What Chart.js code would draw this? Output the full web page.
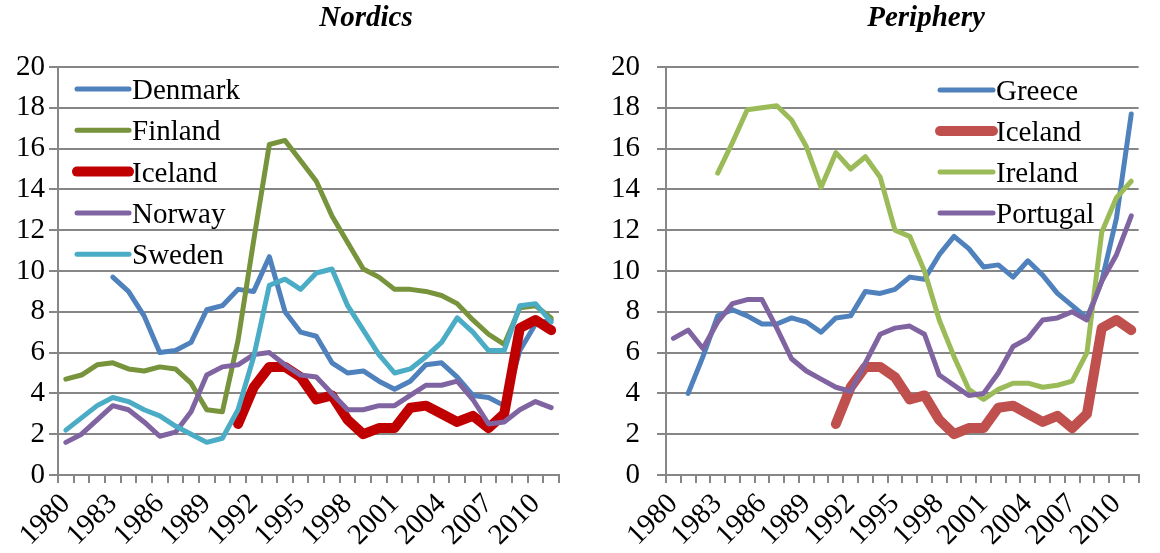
<!DOCTYPE html>
<html lang="en">
<head>
    <meta charset="UTF-8">
    <title>Nordics and Periphery</title>
    <script src="https://cdn.jsdelivr.net/npm/chart.js"></script>
    <style>
        body { margin: 0; background: #fff; }
        #wrap { position: relative; width: 1160px; height: 553px; overflow: hidden; }
        .panel { position: absolute; top: 0; width: 580px; height: 553px; }
        .ttl {
            position: absolute; top: 2px; width: 300px; text-align: center;
            font-family: "Liberation Serif", "Times New Roman", serif;
            font-size: 29px; font-weight: bold; font-style: italic; line-height: 29px;
        }
    </style>
</head>
<body>
<div id="wrap">
    <div class="panel" style="left:0"><canvas id="nordics" width="580" height="553"></canvas></div>
    <div class="panel" style="left:580px"><canvas id="periphery" width="580" height="553"></canvas></div>
    <div class="ttl" style="left:216px">Nordics</div>
    <div class="ttl" style="left:776px">Periphery</div>
</div>
<script>
    // years on the category axis
    const years = ['1980','1981','1982','1983','1984','1985','1986','1987','1988','1989',
                   '1990','1991','1992','1993','1994','1995','1996','1997','1998','1999',
                   '2000','2001','2002','2003','2004','2005','2006','2007','2008','2009',
                   '2010','2011'];

    // Nordics
    const denmark = [null, null, null, 9.7, 9.0, 7.8, 6.0, 6.1, 6.5, 8.1,
                     8.3, 9.1, 9.0, 10.7, 8.0, 7.0, 6.8, 5.5, 5.0, 5.1,
                     4.6, 4.2, 4.6, 5.4, 5.5, 4.8, 3.9, 3.8, 3.4, 6.1,
                     7.4, 7.6];
    const finland = [4.7, 4.9, 5.4, 5.5, 5.2, 5.1, 5.3, 5.2, 4.5, 3.2,
                     3.1, 6.6, 11.5, 16.2, 16.4, 15.4, 14.4, 12.7, 11.4, 10.1,
                     9.7, 9.1, 9.1, 9.0, 8.8, 8.4, 7.6, 6.9, 6.4, 8.2,
                     8.3, 7.7];
    const iceland = [null, null, null, null, null, null, null, null, null, null,
                     null, 2.5, 4.3, 5.3, 5.3, 4.8, 3.7, 3.9, 2.7, 2.0,
                     2.3, 2.3, 3.3, 3.4, 3.0, 2.6, 2.9, 2.3, 3.0, 7.2,
                     7.6, 7.1];
    const norway  = [1.6, 2.0, 2.7, 3.4, 3.2, 2.6, 1.9, 2.1, 3.1, 4.9,
                     5.3, 5.4, 5.9, 6.0, 5.4, 4.9, 4.8, 4.0, 3.2, 3.2,
                     3.4, 3.4, 3.9, 4.4, 4.4, 4.6, 3.7, 2.5, 2.6, 3.2,
                     3.6, 3.3];
    const sweden  = [2.2, 2.8, 3.4, 3.8, 3.6, 3.2, 2.9, 2.4, 2.0, 1.6,
                     1.8, 3.2, 5.8, 9.3, 9.6, 9.1, 9.9, 10.1, 8.3, 7.1,
                     5.9, 5.0, 5.2, 5.8, 6.5, 7.7, 7.0, 6.1, 6.1, 8.3,
                     8.4, 7.5];

    // Periphery
    const greece   = [null, 4.0, 5.8, 7.8, 8.1, 7.8, 7.4, 7.4, 7.7, 7.5,
                      7.0, 7.7, 7.8, 9.0, 8.9, 9.1, 9.7, 9.6, 10.8, 11.7,
                      11.1, 10.2, 10.3, 9.7, 10.5, 9.8, 8.9, 8.3, 7.7, 9.5,
                      12.6, 17.7];
    const ireland  = [null, null, null, 14.8, 16.3, 17.9, 18.0, 18.1, 17.4, 16.1,
                      14.1, 15.8, 15.0, 15.6, 14.6, 12.0, 11.7, 10.0, 7.6, 5.8,
                      4.2, 3.7, 4.2, 4.5, 4.5, 4.3, 4.4, 4.6, 6.0, 11.9,
                      13.6, 14.4];
    const portugal = [6.7, 7.1, 6.2, 7.5, 8.4, 8.6, 8.6, 7.2, 5.7, 5.1,
                      4.7, 4.3, 4.1, 5.5, 6.9, 7.2, 7.3, 6.9, 4.9, 4.4,
                      3.9, 4.0, 5.0, 6.3, 6.7, 7.6, 7.7, 8.0, 7.6, 9.5,
                      10.8, 12.7];

    const yTicks = [0, 2, 4, 6, 8, 10, 12, 14, 16, 18, 20];

    const serif = '"Liberation Serif", "Times New Roman", serif';
    const gridGrey = '#868686';

    function line(label, data, color, width) {
        return {
            label: label,
            data: data,
            borderColor: color,
            backgroundColor: color,
            borderWidth: width,
            pointRadius: 0,
            pointHoverRadius: 0,
            tension: 0,
            fill: false,
            spanGaps: false,
            borderJoinStyle: 'round',
            borderCapStyle: 'round'
        };
    }

    // legend drawn inside the plot, one row per series
    const insideLegend = {
        id: 'insideLegend',
        afterDraw(chart, args, opts) {
            const ctx = chart.ctx;
            ctx.save();
            ctx.font = '29px ' + serif;
            ctx.fillStyle = '#000';
            ctx.textBaseline = 'alphabetic';
            ctx.textAlign = 'left';
            chart.data.datasets.forEach((ds, i) => {
                const y = opts.y + i * opts.rowH;
                ctx.beginPath();
                ctx.strokeStyle = ds.borderColor;
                ctx.lineWidth = ds.borderWidth;
                ctx.lineCap = 'round';
                ctx.moveTo(opts.x, y);
                ctx.lineTo(opts.x + opts.len, y);
                ctx.stroke();
                ctx.fillText(ds.label, opts.x + opts.len + 3, y + 10);
            });
            ctx.restore();
        }
    };

    function makeChart(id, datasets, cfg) {
        datasets.forEach((ds, i) => { ds.order = -i; });
        return new Chart(document.getElementById(id).getContext('2d'), {
            type: 'line',
            data: { labels: years, datasets: datasets },
            plugins: [insideLegend],
            options: {
                responsive: false,
                animation: false,
                devicePixelRatio: 1,
                layout: { padding: { top: 67, right: cfg.padRight, left: 0, bottom: 0 } },
                plugins: {
                    legend: { display: false },
                    title: { display: false },
                    tooltip: { enabled: false },
                    insideLegend: cfg.legend
                },
                scales: {
                    x: {
                        type: 'category',
                        offset: true,
                        afterFit: s => { s.height = 78; },
                        grid: {
                            offset: true,
                            drawOnChartArea: false,
                            drawTicks: true,
                            tickLength: 8,
                            color: gridGrey,
                            lineWidth: 2
                        },
                        border: { color: gridGrey, width: 2 },
                        ticks: {
                            autoSkip: false,
                            minRotation: 45,
                            maxRotation: 45,
                            padding: 4,
                            color: '#000',
                            font: { family: serif, size: 29 },
                            callback: function (val, idx) {
                                return idx % 3 === 0 ? this.getLabelForValue(val) : '';
                            }
                        }
                    },
                    y: {
                        min: 0,
                        max: 20,
                        afterFit: s => { s.width = cfg.yWidth; },
                        afterBuildTicks: s => { s.ticks = yTicks.map(v => ({ value: v })); },
                        grid: {
                            color: gridGrey,
                            lineWidth: 2,
                            drawTicks: true,
                            tickLength: 9
                        },
                        border: { color: gridGrey, width: 2 },
                        ticks: {
                            padding: cfg.yPad,
                            color: '#000',
                            font: { family: serif, size: 29 }
                        }
                    }
                }
            }
        });
    }

    makeChart('nordics', [
        line('Denmark', denmark, '#4F81BD', 5),
        line('Finland', finland, '#77933C', 5),
        line('Iceland', iceland, '#C00000', 10),
        line('Norway', norway, '#8064A2', 5),
        line('Sweden', sweden, '#4BACC6', 5)
    ], { padRight: 15, yWidth: 58, yPad: 4, legend: { x: 77, y: 89, rowH: 41.3, len: 52 } });

    makeChart('periphery', [
        line('Greece', greece, '#4F81BD', 5),
        line('Iceland', iceland, '#C0504D', 10),
        line('Ireland', ireland, '#9BBB59', 5),
        line('Portugal', portugal, '#8064A2', 5)
    ], { padRight: 8, yWidth: 86, yPad: 17, legend: { x: 360, y: 90, rowH: 41, len: 53 } });
</script>
</body>
</html>
